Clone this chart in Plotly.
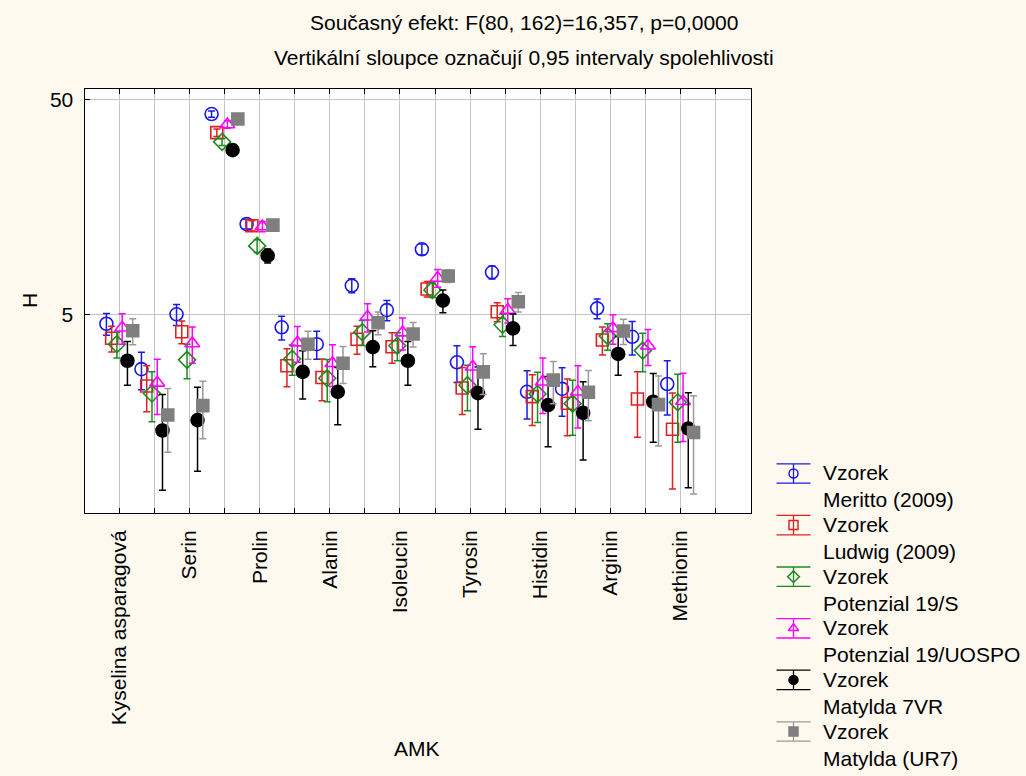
import plotly.graph_objects as go

# Amino-acid axis: 18 tick positions, every other one labelled
amk_ticks = ["Kyselina asparagová", "", "Serin", "", "Prolin", "", "Alanin", "",
             "Isoleucin", "", "Tyrosin", "", "Histidin", "", "Arginin", "",
             "Methionin", ""]
amk_positions = list(range(1, 18))  # 17 measured amino acids

series_names = ["Meritto (2009)", "Ludwig (2009)", "Potenzial 19/S",
                "Potenzial 19/UOSPO", "Matylda 7VR", "Matylda (UR7)"]

# Mean H per amino acid for each sample
h_meritto = [4.52, 2.78, 5.00, 42.7, 13.15, 4.35, 3.63, 6.80, 5.23, 10.03, 2.99, 7.84, 2.18, 2.25, 5.33, 3.93, 2.37]
h_ludwig = [3.87, 2.32, 4.15, 35.0, 12.9, 2.88, 2.54, 3.83, 3.53, 6.56, 2.27, 5.14, 2.07, 1.93, 3.80, 2.02, 1.46]
h_pot19s = [3.63, 2.14, 3.07, 31.7, 10.4, 3.10, 2.52, 4.13, 3.57, 6.49, 2.34, 4.47, 2.13, 1.92, 3.96, 3.39, 1.95]
h_pot19u = [4.33, 2.40, 3.66, 38.2, 12.8, 3.69, 2.96, 4.87, 4.11, 7.38, 2.85, 5.23, 2.43, 2.18, 4.30, 3.57, 1.97]
h_mat7vr = [3.04, 1.44, 1.61, 29.0, 9.37, 2.70, 2.18, 3.52, 3.04, 5.79, 2.15, 4.30, 1.89, 1.74, 3.27, 1.96, 1.47]
h_matur7 = [4.19, 1.70, 1.88, 40.5, 13.0, 3.63, 2.96, 4.57, 4.05, 7.53, 2.70, 5.72, 2.47, 2.17, 4.18, 1.90, 1.41]

# Half-width of the 0.95 confidence interval
ci_meritto = [0.53, 0.55, 0.56, 1.4, 0.7, 0.55, 0.54, 0.51, 0.56, 0.6, 0.58, 0.55, 0.55, 0.57, 0.56, 0.7, 0.67]
ci_ludwig = [0.53, 0.56, 0.5, 1.4, 0.7, 0.58, 0.56, 0.57, 0.57, 0.55, 0.56, 0.52, 0.55, 0.57, 0.57, 0.68, 0.69]
ci_pot19s = [0.5, 0.56, 0.56, 1.2, 0.7, 0.5, 0.56, 0.55, 0.53, 0.5, 0.56, 0.53, 0.56, 0.55, 0.56, 0.69, 0.68]
ci_pot19u = [0.7, 0.69, 0.7, 1.5, 0.7, 0.7, 0.65, 0.73, 0.7, 0.7, 0.68, 0.67, 0.7, 0.7, 0.67, 0.68, 0.69]
ci_mat7vr = [0.7, 0.68, 0.68, 1.5, 0.7, 0.68, 0.65, 0.67, 0.7, 0.7, 0.69, 0.72, 0.68, 0.69, 0.67, 0.69, 0.69]
ci_matur7 = [0.58, 0.56, 0.56, 1.3, 0.7, 0.54, 0.58, 0.55, 0.53, 0.5, 0.58, 0.6, 0.55, 0.57, 0.56, 0.68, 0.68]

means = [h_meritto, h_ludwig, h_pot19s, h_pot19u, h_mat7vr, h_matur7]
cis = [ci_meritto, ci_ludwig, ci_pot19s, ci_pot19u, ci_mat7vr, ci_matur7]

styles = [
    dict(symbol="circle-open", size=13, color="#1a1ae6", err="#1a1ae6"),
    dict(symbol="square-open", size=12, color="#e02020", err="#e02020"),
    dict(symbol="diamond-open", size=13, color="#1f8a1f", err="#1f8a1f"),
    dict(symbol="triangle-up-open", size=13, color="#ff00ff", err="#ff00ff"),
    dict(symbol="circle", size=13, color="#000000", err="#000000"),
    dict(symbol="square", size=12, color="#7f7f7f", err="#9a9a9a"),
]

W, H = 1026, 776
FONT = "Liberation Sans, Arial, sans-serif"
CREAM = "#fdf9ee"

# plot frame in pixels
PL, PR, PT, PB = 84.5, 750.5, 89, 513

fig = go.Figure()

n = len(series_names)
for i in range(n):
    off = -0.375 + 0.15 * i
    st = styles[i]
    fig.add_trace(go.Scatter(
        x=[p + off for p in amk_positions], y=means[i], mode="markers",
        marker=dict(symbol=st["symbol"], size=st["size"], color=st["color"],
                    line=dict(width=1.6, color=st["color"])),
        error_y=dict(type="data", array=cis[i], color=st["err"], thickness=1.5, width=3.5),
        showlegend=False, xaxis="x", yaxis="y",
    ))

# hand-built legend: one error-bar glyph per sample
for i in range(n):
    st = styles[i]
    fig.add_trace(go.Scatter(
        x=[0], y=[i], mode="markers",
        marker=dict(symbol=st["symbol"], size=9, color=st["color"],
                    line=dict(width=1.5, color=st["color"])),
        error_y=dict(type="data", array=[0.188], color=st["err"], thickness=1.3, width=17),
        showlegend=False, xaxis="x2", yaxis="y3", hoverinfo="skip",
    ))
    fig.add_annotation(
        x=821 / W, xref="paper", xanchor="left",
        y=i, yref="y3", yanchor="top", yshift=14,
        text="Vzorek<br>" + series_names[i], showarrow=False, align="left",
        font=dict(family=FONT, size=21, color="black"),
    )

fig.update_layout(
    width=W, height=H,
    margin=dict(l=0, r=0, t=0, b=0),
    paper_bgcolor=CREAM, plot_bgcolor=CREAM,
    font=dict(family=FONT, size=21, color="black"),
    xaxis=dict(
        domain=[PL / W, PR / W], range=[0, 19],
        tickmode="array", tickvals=list(range(1, 19)), ticktext=amk_ticks,
        tickangle=-90, ticks="inside", ticklen=5, tickcolor="black",
        showline=True, linecolor="black", linewidth=1, mirror="ticks",
        showgrid=True, gridcolor="#c4c4c4", gridwidth=1, zeroline=False,
        ticklabelstandoff=8, anchor="y",
    ),
    yaxis=dict(
        domain=[1 - PB / H, 1 - PT / H], type="log", range=[-0.2252, 1.7469],
        tickmode="array", tickvals=[5, 50], ticktext=["5", "50"],
        ticks="inside", ticklen=5, tickcolor="black",
        showline=True, linecolor="black", linewidth=1, mirror=True,
        showgrid=True, gridcolor="#c4c4c4", gridwidth=1, zeroline=False,
        ticklabelstandoff=6, anchor="x",
    ),
    yaxis2=dict(
        overlaying="y", side="right", anchor="x", range=[0, 11], dtick=1,
        tickmode="linear", tick0=0,
        ticks="inside", ticklen=5, tickcolor="black", showticklabels=False,
        showgrid=False, zeroline=False, showline=True, linecolor="black",
    ),
    xaxis2=dict(domain=[776 / W, 811 / W], range=[-1, 1], visible=False, anchor="y3"),
    yaxis3=dict(domain=[1 - 757.3 / H, 1 - 447.7 / H], range=[5.5, -0.5],
                visible=False, anchor="x2"),
)

# white panel behind the main plot only
fig.add_shape(type="rect", xref="x domain", yref="y domain", x0=0, x1=1, y0=0, y1=1,
              fillcolor="white", line=dict(width=0), layer="below")

# titles
def label(text, x, y, angle=0):
    fig.add_annotation(x=x / W, y=1 - y / H, xref="paper", yref="paper",
                       xanchor="center", yanchor="middle", textangle=angle,
                       text=text, showarrow=False, font=dict(family=FONT, size=21))

label("Současný efekt: F(80, 162)=16,357, p=0,0000", 524, 22)
label("Vertikální sloupce označují 0,95 intervaly spolehlivosti", 524, 58)
label("H", 30, 301, angle=-90)
label("AMK", 417, 748)

fig.write_html("out.html")
